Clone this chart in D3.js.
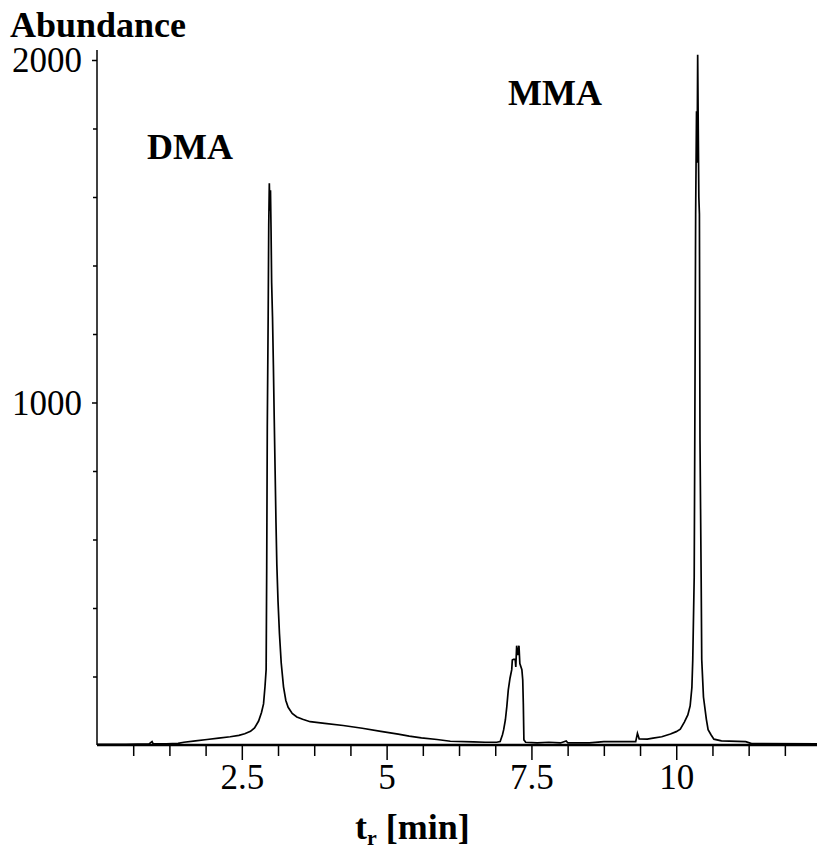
<!DOCTYPE html>
<html>
<head>
<meta charset="utf-8">
<script src="https://cdn.jsdelivr.net/npm/d3@7"></script>
<style>
  html, body { margin: 0; padding: 0; background: #fff; }
  svg { display: block; }
  text { font-family: "Liberation Serif", "Times New Roman", serif; fill: #000; }
</style>
</head>
<body>
<svg id="chart" width="817" height="852"></svg>
<script>
// Retention time (min) of each sampled point of the chromatogram
const times = [
  0.0, 0.5, 0.9, 0.95, 0.97, 1.2, 1.4, 1.5, 1.7, 1.9, 2.1, 2.3, 2.45, 2.55, 2.65, 2.72, 2.79, 2.84,
  2.875, 2.9, 2.92, 2.93, 2.94, 2.955, 2.965, 2.975, 2.985, 2.995, 3.005, 3.015, 3.03, 3.045, 3.06,
  3.075, 3.09, 3.105, 3.125, 3.15, 3.18, 3.22, 3.26, 3.3, 3.37, 3.45, 3.55, 3.68, 3.93, 4.25, 4.58,
  4.9, 5.2, 5.39, 5.6, 5.87, 6.1, 6.5, 6.7, 6.9, 6.96, 7.0, 7.02, 7.05, 7.075,
  7.1, 7.13, 7.16, 7.17, 7.19, 7.22, 7.23, 7.245, 7.265, 7.285, 7.3, 7.335, 7.35, 7.36, 7.37, 7.4,
  7.6, 7.8, 8.0, 8.1, 8.13, 8.5, 8.75, 9.0, 9.3, 9.33, 9.36, 9.5, 9.6, 9.75, 9.9, 10.0, 10.07,
  10.14, 10.2, 10.24, 10.27, 10.285, 10.31, 10.32, 10.335, 10.35, 10.36, 10.37, 10.38, 10.39, 10.4,
  10.41, 10.43, 10.44, 10.47, 10.52, 10.55, 10.6, 10.65, 10.78, 11.2, 11.3, 12.43
];
// Detector abundance at each retention time
const abundance = [
  2, 2, 3, 10, 3, 3, 5, 8, 12, 16, 20, 24, 28, 33, 40, 50, 70, 95,
  120, 170, 220, 520, 930, 1250, 1520, 1640, 1560, 1620, 1500, 1350, 1250, 1110, 950,
  800, 650, 525, 420, 325, 240, 170, 130, 110, 92, 82, 75, 68, 63, 57, 49,
  40, 32, 26, 21, 16, 11, 9, 8, 8, 10, 30, 44, 73, 112,
  160, 195, 220, 248, 250, 250, 228, 290, 262, 290, 238, 220, 190, 120, 15, 8,
  6, 8, 6, 12, 6, 6, 10, 10, 10, 34, 18, 17, 20, 24, 32, 39, 46,
  67, 88, 114, 168, 248, 490, 890, 1550, 1850, 1700, 2015, 1800, 1600, 1550,
  890, 490, 250, 140, 75, 45, 30, 17, 12, 10, 4, 3
];

// Axis ticks
const xMajorTicks = [2.5, 5, 7.5, 10];
const xMinorTicks = [0.625, 1.25, 1.875, 3.125, 3.75, 4.375, 5.625, 6.25, 6.875,
                     8.125, 8.75, 9.375, 10.625, 11.25, 11.875];
const xTickLabels = ["2.5", "5", "7.5", "10"];
const yMajorTicks = [1000, 2000];
const yMinorTicks = [200, 400, 600, 800, 1200, 1400, 1600, 1800];
const yTickLabels = ["1000", "2000"];

// Peak annotations
const peakNames = ["DMA", "MMA"];

const svg = d3.select("#chart");

const x = d3.scaleLinear().domain([0, 12.43]).range([97, 817]);
const y = d3.scaleLinear().domain([0, 2000]).range([745, 60]);

const points = times.map((t, i) => [t, abundance[i]]);

// Chromatogram trace
const line = d3.line().x(d => x(d[0])).y(d => y(d[1]));
svg.append("path")
  .datum(points)
  .attr("d", line)
  .attr("fill", "none")
  .attr("stroke", "#000")
  .attr("stroke-width", 1.7)
  .attr("stroke-linejoin", "miter");

// X axis: minor and major ticks
const xAxisMinor = d3.axisBottom(x).tickValues(xMinorTicks).tickSize(11).tickSizeOuter(0).tickFormat("");
const xAxisMajor = d3.axisBottom(x).tickValues(xMajorTicks).tickSize(15).tickSizeOuter(0)
  .tickFormat((d, i) => xTickLabels[i]).tickPadding(10);

const gxMinor = svg.append("g").attr("transform", `translate(0,${y(0)})`).call(xAxisMinor);
const gxMajor = svg.append("g").attr("transform", `translate(0,${y(0)})`).call(xAxisMajor);
[gxMinor, gxMajor].forEach(g => {
  g.select(".domain").remove();
  g.selectAll(".tick line").attr("stroke", "#000").attr("stroke-width", 1.5);
});
gxMajor.selectAll(".tick text")
  .attr("font-family", "Liberation Serif")
  .attr("font-size", 35)
  .attr("dy", null)
  .attr("y", 44);

// Y axis: minor and major ticks
const yAxisMinor = d3.axisLeft(y).tickValues(yMinorTicks).tickSize(4).tickSizeOuter(0).tickFormat("");
const yAxisMajor = d3.axisLeft(y).tickValues(yMajorTicks).tickSize(5).tickSizeOuter(0)
  .tickFormat((d, i) => yTickLabels[i]).tickPadding(10);
const gyMinor = svg.append("g").attr("transform", `translate(${x(0)},0)`).call(yAxisMinor);
const gyMajor = svg.append("g").attr("transform", `translate(${x(0)},0)`).call(yAxisMajor);
[gyMinor, gyMajor].forEach(g => {
  g.select(".domain").remove();
  g.selectAll(".tick line").attr("stroke", "#000").attr("stroke-width", 1.5);
});
gyMajor.selectAll(".tick text")
  .attr("font-family", "Liberation Serif")
  .attr("font-size", 35)
  .attr("dy", "0.34em");

// Axis lines
svg.append("line")
  .attr("x1", x(0)).attr("x2", x(0))
  .attr("y1", y(2029)).attr("y2", y(0))
  .attr("stroke", "#000").attr("stroke-width", 1.5);
svg.append("line")
  .attr("x1", x(0)).attr("x2", x(12.43))
  .attr("y1", y(0)).attr("y2", y(0))
  .attr("stroke", "#000").attr("stroke-width", 2.5);

// Titles
svg.append("text")
  .attr("x", 10).attr("y", 37)
  .attr("font-size", 36).attr("font-weight", "bold")
  .text("Abundance");

const xTitle = svg.append("text")
  .attr("x", 355).attr("y", 839)
  .attr("font-size", 36).attr("font-weight", "bold");
xTitle.append("tspan").text("t");
xTitle.append("tspan").attr("font-size", 22).attr("dy", 6).text("r");
xTitle.append("tspan").attr("dy", -6).text(" [min]");

// Peak labels
svg.append("text")
  .attr("x", 147).attr("y", 159)
  .attr("font-size", 36).attr("font-weight", "bold")
  .text(peakNames[0]);
svg.append("text")
  .attr("x", 508).attr("y", 105)
  .attr("font-size", 36).attr("font-weight", "bold")
  .text(peakNames[1]);
</script>
</body>
</html>
